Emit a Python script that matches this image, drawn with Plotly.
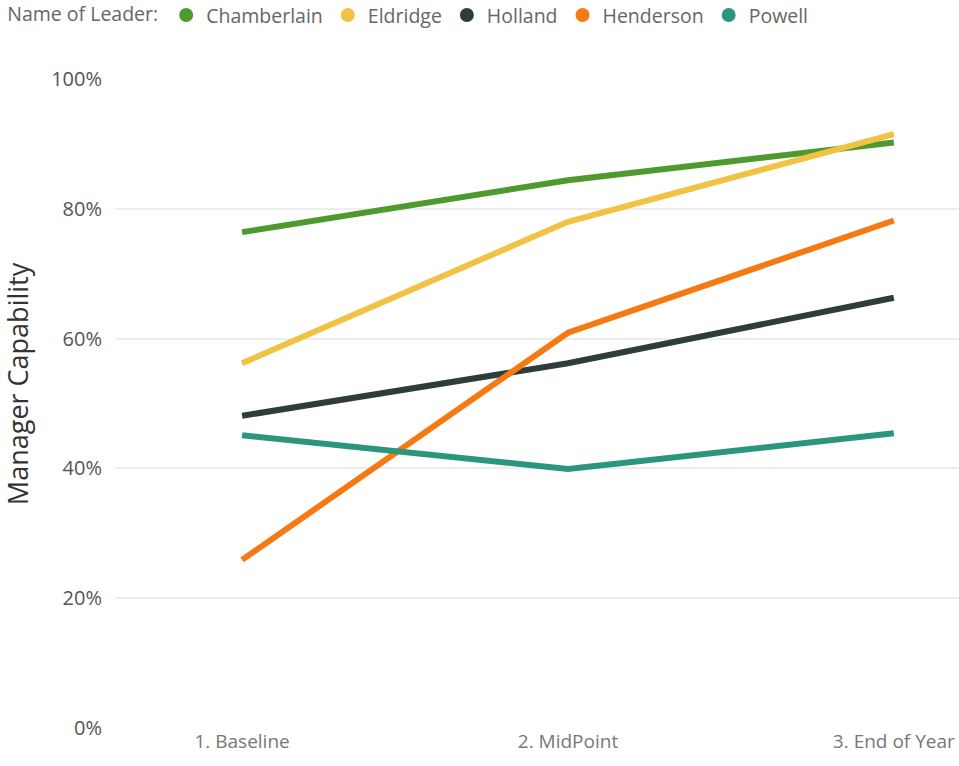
import plotly.graph_objects as go

stages = ["1. Baseline", "2. MidPoint", "3. End of Year"]
leaders = ["Chamberlain", "Eldridge", "Holland", "Henderson", "Powell"]
chamberlain = [0.764, 0.844, 0.902]
eldridge = [0.562, 0.780, 0.915]
holland = [0.481, 0.562, 0.663]
henderson = [0.259, 0.609, 0.782]
powell = [0.451, 0.399, 0.454]
colors = ["#4E9A2F", "#F2C244", "#2E3D39", "#F57A14", "#2A977C"]

series = [chamberlain, eldridge, holland, henderson, powell]

fig = go.Figure()
for name, vals, col in zip(leaders, series, colors):
    fig.add_trace(go.Scatter(x=stages, y=vals, mode="lines", name=name,
                             line=dict(color=col, width=6), showlegend=False))
for name, col in zip(leaders, colors):
    fig.add_trace(go.Scatter(x=[None], y=[None], mode="markers", name=name,
                             marker=dict(color=col, size=14, symbol="circle")))

fig.update_layout(
    width=959, height=766,
    margin=dict(l=115, r=0, t=79, b=38, autoexpand=False),
    plot_bgcolor="white", paper_bgcolor="white",
    font=dict(family="Open Sans, Noto Sans, sans-serif", color="#666666", size=19),
    legend=dict(orientation="h", x=-0.13, xanchor="left", y=1.098, yanchor="middle",
                title=dict(text="Name of Leader:", font=dict(size=19.5, color="#666666")),
                font=dict(size=19.5, color="#666666"), itemwidth=30,
                tracegroupgap=0),
    xaxis=dict(type="category", range=[-0.39, 2.2], showgrid=False, showline=False,
               ticks="", tickfont=dict(size=19, color="#777777")),
    yaxis=dict(range=[0, 1.0], tickformat=".0%", dtick=0.2, showgrid=True,
               gridcolor="#EDEDED", gridwidth=1.5, zeroline=False, showline=False,
               ticks="", tickfont=dict(size=20, color="#555555"),
               ticklabelstandoff=12),
    annotations=[dict(text="Manager Capability", xref="paper", yref="paper",
                      x=-0.116, y=0.53, xanchor="center", yanchor="middle",
                      textangle=-90, showarrow=False,
                      font=dict(size=27, color="#333333"))],
)

fig.write_html("out.html")
